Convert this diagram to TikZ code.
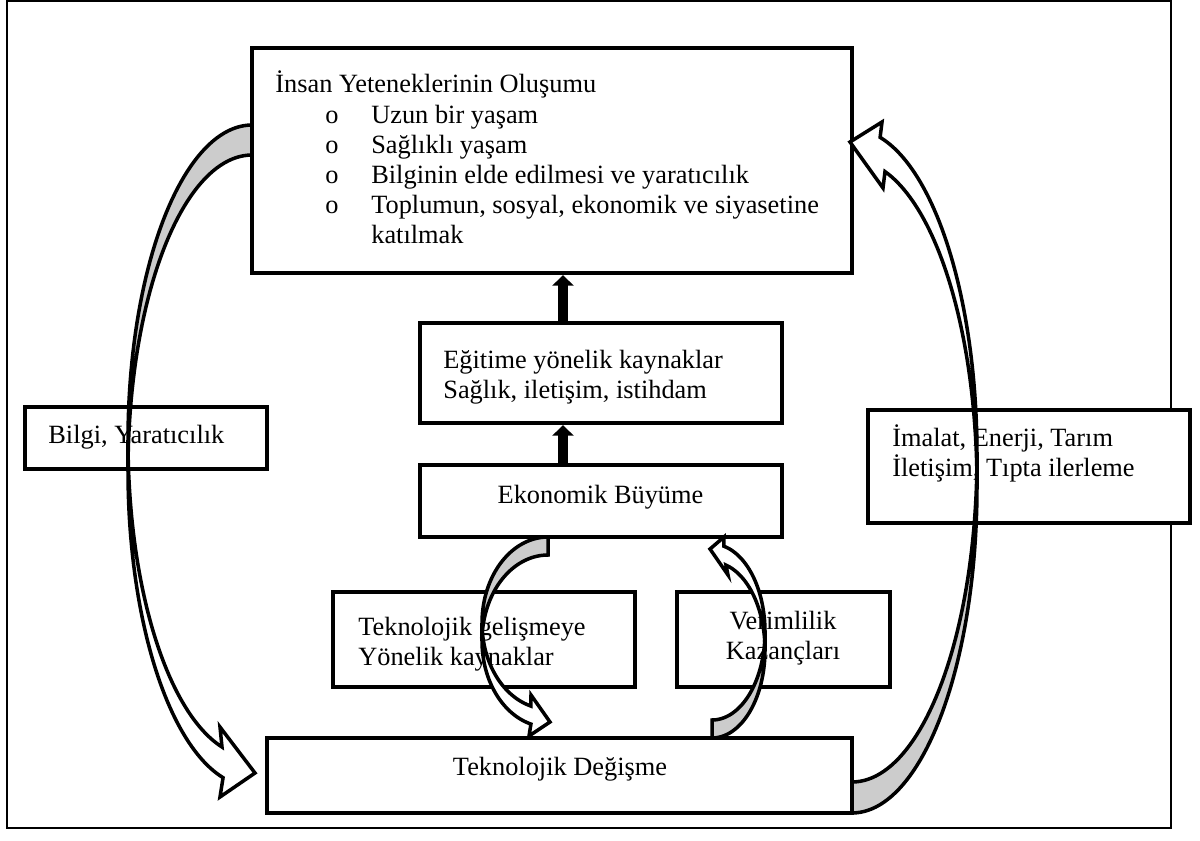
\documentclass[tikz,border=0pt]{standalone}
\usepackage{fontspec}
\setmainfont{Liberation Serif}
\usepackage{xcolor}
\usepackage{tikz}
\usetikzlibrary{positioning,calc,arrows.meta}

\newcommand{\boxfont}{\fontsize{15}{17}\selectfont}

\tikzset{
  box/.style={draw, line width=2.5pt, fill=white, inner sep=0pt},
  txt/.style={font=\boxfont, inner sep=0pt},
  uparrow/.style={line width=5.5pt, -{Triangle[width=12pt,length=6pt]}},
  back/.style={draw, line width=2pt, fill=black!20, line join=miter},
  front/.style={draw, line width=2pt, fill=white, line join=miter},
  frame/.style={line width=1.1pt}
}

\begin{document}
\begin{tikzpicture}[x=0.02cm,y=-0.02cm]
	\useasboundingbox (0,0) rectangle (1200,841);
	\draw[frame] (7,1) rectangle (1171,828);
	
	% boxes
	\node[box, minimum width=12cm, minimum height=4.5cm] (cap) at (552,160.5) {};
	\node[box, minimum width=7.24cm, minimum height=2cm] (res) at (601,373) {};
	\node[box, minimum width=7.24cm, minimum height=1.44cm] (eco) at (601,501) {};
	\node[box, minimum width=6.04cm, minimum height=1.9cm] (tdev) at (484,639.5) {};
	\node[box, minimum width=4.26cm, minimum height=1.9cm] (prod) at (783.5,639.5) {};
	\node[box, minimum width=11.7cm, minimum height=1.5cm] (tchg) at (559.5,775.5) {};
	\node[box, minimum width=4.84cm, minimum height=1.24cm] (know) at (146,438) {};
	\node[box, minimum width=6.44cm, minimum height=2.26cm] (manu) at (1029,466.5) {};
	
	% texts (multi-line nodes sit on their last line)
	\node[txt, anchor=base west] (capTitle) at (275,93) {İnsan Yeteneklerinin Oluşumu};
	\node[txt, anchor=base west] (capList) at (325,124) {\begin{tabular}[t]{@{}p{0.92cm}@{}l@{}}
		o & Uzun bir yaşam\\
		o & Sağlıklı yaşam\\
		o & Bilginin elde edilmesi ve yaratıcılık\\
		o & Toplumun, sosyal, ekonomik ve siyasetine\\
		  & katılmak
	\end{tabular}};
	\node[txt, anchor=base west, align=left] (resText) at (443,398) {Eğitime yönelik kaynaklar\\Sağlık, iletişim, istihdam};
	\node[txt, anchor=base] (ecoText) at (600.5,503) {Ekonomik Büyüme};
	\node[txt, anchor=base west, align=left] (tdevText) at (358,665) {Teknolojik gelişmeye\\Yönelik kaynaklar};
	\node[txt, anchor=base, align=center] (prodText) at (783,659) {Verimlilik\\Kazançları};
	\node[txt, anchor=base] (tchgText) at (560,775) {Teknolojik Değişme};
	\node[txt, anchor=base west] (knowText) at (48,443) {Bilgi, Yaratıcılık};
	\node[txt, anchor=base west, align=left] (manuText) at (892,476) {İmalat, Enerji, Tarım\\İletişim, Tıpta ilerleme};
	
	% straight arrows
	\coordinate (stem) at (563,0);
	\draw[uparrow] (stem |- res.north) -- (stem |- cap.south);
	\draw[uparrow] (stem |- eco.north) -- (stem |- res.south);
	
	% left curved arrow
	\draw[back] plot[domain=270:180, variable=\t, samples=50] ({252+124*cos(\t)},{440.7+315.7*sin(\t)})
		-- plot[domain=180:270, variable=\t, samples=50] ({252+124*cos(\t)},{470.7+315.7*sin(\t)}) -- cycle;
	\draw[front] plot[domain=180:104, variable=\t, samples=50] ({252+124*cos(\t)},{440.7+315.7*sin(\t)})
		-- (220,727) -- (255,773) -- (220,797)
		-- plot[domain=103.5:180, variable=\t, samples=50] ({252+124*cos(\t)},{470.7+315.7*sin(\t)}) -- cycle;
	
	% right curved arrow
	\draw[back] plot[domain=90:0, variable=\t, samples=50] ({852+125*cos(\t)},{486.5+326.5*sin(\t)})
		-- plot[domain=0:90, variable=\t, samples=50] ({852+125*cos(\t)},{455.5+326.5*sin(\t)}) -- cycle;
	\draw[front] plot[domain=0:-77, variable=\t, samples=50] ({852+125*cos(\t)},{455.5+326.5*sin(\t)})
		-- (882,122) -- (850,142) -- (883,188)
		-- plot[domain=-74.7:0, variable=\t, samples=50] ({852+125*cos(\t)},{486.5+326.5*sin(\t)}) -- cycle;
	
	% middle curved arrows
	\draw[back] plot[domain=270:180, variable=\t, samples=40] ({548+66*cos(\t)},{623+86*sin(\t)})
		-- plot[domain=180:270, variable=\t, samples=40] ({548+66*cos(\t)},{641+86*sin(\t)}) -- cycle;
	\draw[front] plot[domain=180:105, variable=\t, samples=40] ({548+66*cos(\t)},{623+86*sin(\t)})
		-- (531,695) -- (550,722) -- (529,736)
		-- plot[domain=105:180, variable=\t, samples=40] ({548+66*cos(\t)},{641+86*sin(\t)}) -- cycle;
	
	\draw[back] plot[domain=90:0, variable=\t, samples=40] ({712+53*cos(\t)},{650+88*sin(\t)})
		-- plot[domain=0:90, variable=\t, samples=40] ({712+53*cos(\t)},{632+88*sin(\t)}) -- cycle;
	\draw[front] plot[domain=0:-77, variable=\t, samples=40] ({712+53*cos(\t)},{632+88*sin(\t)})
		-- (724,537) -- (710,549) -- (728,575)
		-- plot[domain=-74.7:0, variable=\t, samples=40] ({712+53*cos(\t)},{650+88*sin(\t)}) -- cycle;
\end{tikzpicture}
\end{document}
